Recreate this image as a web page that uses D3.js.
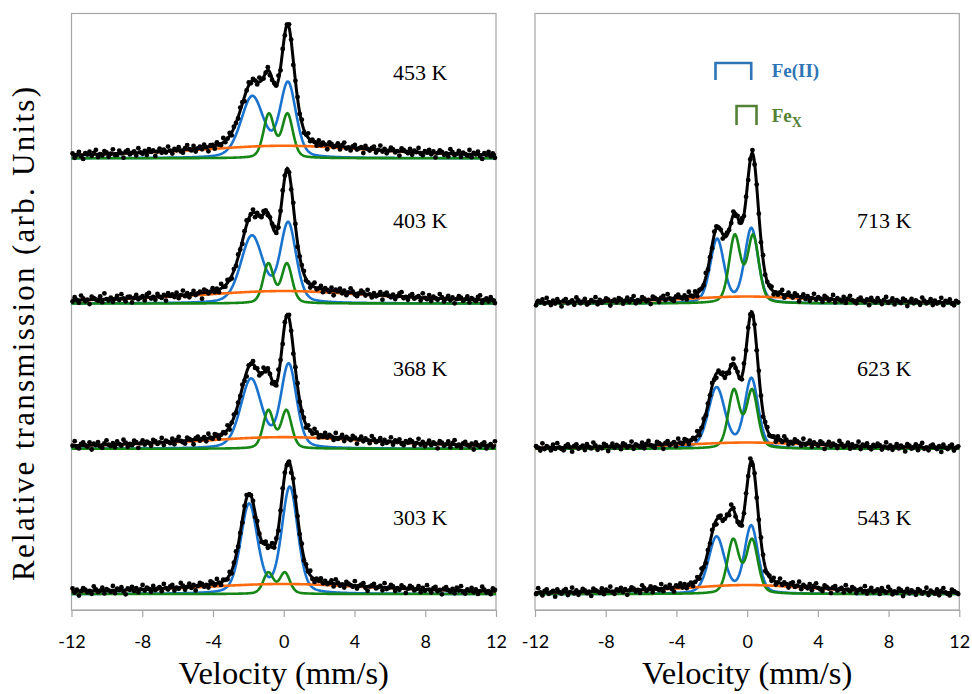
<!DOCTYPE html>
<html><head><meta charset="utf-8">
<script src="https://cdn.jsdelivr.net/npm/d3@7"></script>
<style>body{margin:0;background:#fff}</style>
</head><body><svg id="c" width="972" height="694"></svg>
<script>
// ---- data ----
const spectrumLabels = ["453 K","403 K","368 K","303 K","713 K","623 K","543 K"];
const spectrumPanel  = [0,0,0,0,1,1,1];
const spectrumStack  = [3,2,1,0,2,1,0];
// Fe(II) doublet (blue)
const feIICentreA = [-1.78,-1.80,-1.85,-1.96,-1.70,-1.73,-1.73];
const feIICentreB = [0.24,0.25,0.28,0.34,0.24,0.24,0.23];
const feIIHeightA = [42.0,46.0,47.5,61.3,43.9,41.8,39.0];
const feIIHeightB = [51.0,54.5,57.5,73.0,51.4,48.0,46.6];
const feIIWidthA  = [0.76,0.74,0.70,0.56,0.46,0.56,0.54];
const feIIWidthB  = [0.53,0.53,0.52,0.53,0.45,0.45,0.45];
// Fe_X doublet (green)
const feXCentreA = [-0.84,-0.87,-0.87,-0.87,-0.70,-0.75,-0.79];
const feXCentreB = [0.21,0.18,0.15,0.06,0.34,0.28,0.28];
const feXHeight  = [30.0,27.0,26.0,14.5,45.8,39.5,36.7];
const feXWidth   = [0.36,0.35,0.35,0.34,0.38,0.38,0.39];
// broad background component (orange)
const bgHeight = [8.6,8.6,8.0,6.9,4.8,4.3,6.2];
const bgWidth  = [7,7,7,7,5,5,5];
// part of the total fit (black) not drawn as a separate curve
const hiddenCentre = [-1.30,-1.40,-1.30,-1.30,-1.15,-1.25,-1.20];
const hiddenHeight = [1.0,7.0,2.0,0.0,5.0,6.5,7.5];
const hiddenWidth  = [0.70,0.80,0.70,0.70,0.40,0.50,0.50];
// measured scatter of points about the fit, one list per spectrum
const scatter = [
[1,-2,0,2,-1,-3,1,0,2,-1,1,3,-2,0,-1,2,1,-2,0,3,-1,-1,2,0,-3,1,2,-1,0,1,-2,3,0,-1,1,-2,2,0,1,-3,
0,2,-1,1,-1,3,0,-2,1,0,2,-1,-2,1,3,0,-1,2,-2,0,1,-1,2,0,-3,1,1,-2,2,0,-1,3,-1,0,2,-2,1,0,-1,2,
1,-3,0,2,-1,1,0,-2,3,1,-1,0,2,-2,-1,1,0,3,-2,1,-1,0,2,1,-3,0,1,-1,2,-2,0,3,-1,1,0,-2,2,-1,1,0,
-3,2,1,-1,0,2,-2,1,3,-1,0,-2,1,2,-1,0,1,-3,2,0,-1,1,2,-2,0,3,-1,1,-2,0,2,1,-1,0,-3,2,1,0,-1,2,
-2,1,0,3,-1,-2,1,0,2,-1,1,-3,0,2,1,-1,0,-2,3,1,-1,0,2,-2,1,0,-1,3,-2,1,0,2,-1,-3,1,0,2,-1,1,-2],
[-1,2,0,-2,3,1,-1,0,-3,2,1,0,-1,2,-2,4,0,-1,1,-2,0,2,-1,3,0,-2,1,1,-3,0,2,-1,0,1,-2,2,3,-1,0,-2,
2,0,-1,1,-3,2,0,1,-1,2,-2,0,3,-1,1,-2,0,2,-1,0,1,-4,2,1,-1,0,2,-1,1,-2,3,0,-1,2,0,-2,1,-1,2,0,
-2,1,3,-1,0,2,-3,1,0,-1,2,1,-2,0,1,3,-1,-2,0,2,1,-1,0,-2,2,1,-3,0,1,2,-1,0,-2,1,3,-1,0,2,-2,1,
0,-1,2,-3,1,0,2,-1,1,-2,0,3,1,-1,-2,0,2,1,-1,3,0,-2,1,-1,0,2,-3,1,2,0,-1,1,-2,0,2,3,-1,0,-2,1,
2,-1,0,1,-2,3,0,-1,2,-2,1,0,-1,3,1,-2,0,2,-1,1,-3,0,2,1,-1,0,2,-2,1,0,-1,2,3,-2,0,1,-1,2,0,-2],
[0,3,-1,-2,1,2,0,-1,2,-3,1,0,2,-1,-2,1,3,0,-1,1,-2,2,0,-1,3,1,-2,0,-1,2,1,-3,0,2,-1,1,0,-2,2,1,
-1,0,3,-2,1,0,-1,2,-2,1,3,0,-1,-2,2,1,0,-3,1,2,-1,0,1,-2,3,0,-1,2,1,-2,0,1,-1,3,-2,0,2,-1,1,0,
2,-1,-3,1,0,2,-1,1,-2,0,3,-1,1,0,-2,2,-1,4,0,-2,1,-1,2,0,-3,1,2,-1,0,1,-2,2,0,-1,3,1,-2,0,-1,2,
-1,1,0,-2,3,-1,0,2,-2,1,0,-1,2,1,-3,0,2,-1,1,0,-2,3,1,-1,0,2,-2,1,-1,0,3,-2,1,0,2,-1,-2,1,0,2,
1,-2,0,3,-1,1,-2,0,2,-1,1,0,-3,2,1,-1,0,2,-2,1,3,-1,0,-2,1,2,0,-1,1,-3,2,0,-1,1,2,-2,0,1,-1,3],
[2,-1,1,-3,0,2,1,-1,0,-2,3,1,-1,0,2,-2,1,0,-1,3,-2,1,0,2,-1,-3,1,0,2,-1,1,-2,0,3,-1,1,0,-2,2,-1,
0,1,-2,3,0,-1,1,2,-2,0,-1,3,1,-2,0,2,-1,1,-3,0,2,1,-1,0,-2,2,1,-1,3,0,-2,1,0,-1,2,-2,1,3,-1,0,
-2,1,2,-1,0,1,-3,2,0,-1,1,2,-2,0,3,-1,1,-2,0,2,1,-1,0,-3,2,1,0,-1,2,-2,1,0,3,-1,-2,1,0,2,-1,1,
-1,0,2,-2,3,1,-1,0,-2,2,1,0,-1,3,-2,0,1,2,-1,-3,0,1,2,-1,0,1,-2,3,-1,0,2,1,-2,0,-1,2,1,-3,0,2,
1,-1,0,2,-2,1,-1,3,0,-2,1,2,-1,0,-3,1,2,0,-1,1,-2,2,0,3,-1,-2,1,0,2,-1,1,-2,0,3,1,-1,0,-2,2,1],
[-2,1,0,2,-1,3,0,-2,1,-1,2,0,-3,1,2,-1,0,1,-2,3,1,-1,0,2,-2,-1,1,0,3,-2,1,-1,0,2,1,-3,0,1,-1,2,
1,-2,0,2,-1,1,3,-2,0,-1,2,1,-1,0,-3,2,1,0,-2,1,2,-1,3,0,-1,-2,1,2,0,-1,1,-2,3,0,-1,2,-2,1,0,-1,
3,-1,0,-2,2,1,-1,0,-3,1,2,0,-1,2,-2,1,0,3,-1,1,-2,0,2,-1,1,0,-2,3,-1,0,1,2,-2,0,-1,1,3,-2,0,2,
0,-1,2,1,-3,0,2,-1,1,-2,0,3,-1,1,0,-2,2,1,-1,0,3,-2,1,0,-1,2,-2,1,3,0,-1,-2,1,2,0,-1,1,-3,2,0,
-1,2,0,-2,1,3,-1,0,2,-2,1,0,-1,2,1,-3,0,2,-1,1,0,-2,3,1,-1,0,2,-2,1,-1,0,3,-2,1,0,2,-1,-2,1,0],
[1,0,-2,3,-1,1,0,-2,2,-1,3,0,-1,-2,1,2,0,-3,1,2,-1,0,1,-2,2,0,-1,3,1,-2,0,-1,2,1,-3,0,2,-1,1,0,
-2,2,1,-1,0,3,-2,1,0,-1,2,-2,1,3,0,-1,-2,2,1,0,-3,1,2,-1,0,1,-2,3,0,-1,2,1,-2,0,1,-1,3,-2,0,2,
-1,1,0,2,-1,-3,1,0,2,-1,1,-2,0,3,-1,1,0,-2,2,-1,1,0,-2,1,-1,2,0,-3,1,2,-1,0,1,-2,2,0,-1,3,1,-2,
0,-1,2,1,0,-2,3,-1,0,2,-2,1,0,-1,2,1,-3,0,2,-1,1,0,-2,3,1,-1,0,2,-2,1,-1,0,3,-2,1,0,2,-1,-2,1,
0,2,1,-2,0,3,-1,1,-2,0,2,-1,1,0,-3,2,1,-1,0,2,-2,1,3,-1,0,-2,1,2,0,-1,1,-3,2,0,-1,1,2,-2,0,1],
[-1,3,0,-2,1,2,-1,0,1,-3,2,0,-1,1,2,-2,0,3,-1,1,-2,0,2,1,-1,0,-3,2,1,0,-1,2,-2,1,0,3,-1,-2,1,0,
2,-1,1,-3,0,2,1,-1,0,-2,3,1,-1,0,2,-2,1,0,-1,3,-2,1,0,2,-1,-3,1,0,2,-1,1,-2,0,1,-2,0,2,-1,3,0,
-2,1,-1,2,0,-3,1,2,-1,0,1,-2,3,1,-1,0,2,-2,-1,1,0,3,-2,1,-1,0,2,1,-3,0,1,-1,2,-2,0,3,-1,1,0,-2,
1,2,-1,0,3,-2,1,0,-1,2,-2,1,3,0,-1,-2,2,1,0,-3,1,2,-1,0,1,-2,3,0,-1,2,1,-2,0,1,-1,3,-2,0,2,-1,
0,1,-2,2,0,-1,3,1,-2,0,-1,2,1,-3,0,2,-1,1,0,-2,2,1,-1,0,3,-2,1,0,-1,2,-2,1,3,0,-1,-2,2,1,0,-1]
];
const velocityTicks = [-12,-8,-4,0,4,8,12];
const legendLabels = ["Fe(II)","Fe"];
const legendSub = ["","X"];
const legendFrom = [-1.79,-0.60];
const legendTo   = [0.23,0.53];

// ---- drawing ----
const svg = d3.select("#c");
const C = {blue:"#1a73cd", green:"#168716", orange:"#ff6a0e", frame:"#a6a6a6",
           legBlue:"#2e75b6", legGreen:"#538135"};
const serif = "'Liberation Serif','Times New Roman',Times,serif";
const xScales = [
  d3.scaleLinear().domain([-12,12]).range([71.5,496]),
  d3.scaleLinear().domain([-12,12]).range([535,959.3])
];
const y = d3.scaleLinear().domain([0,411]).range([610,13]);
const baseOffset = 11, stackStep = 100, eta = 0.3;

function pv(v,c,h,w){ const t=(v-c)/w, t2=t*t; return h*(eta/(1+t2)+(1-eta)*Math.exp(-Math.LN2*t2)); }
const feII = (i,v)=>pv(v,feIICentreA[i],feIIHeightA[i],feIIWidthA[i])+pv(v,feIICentreB[i],feIIHeightB[i],feIIWidthB[i]);
const feX  = (i,v)=>pv(v,feXCentreA[i],feXHeight[i],feXWidth[i])+pv(v,feXCentreB[i],feXHeight[i],feXWidth[i]);
const bg   = (i,v)=>bgHeight[i]/(1+(v/bgWidth[i])**2);
const hidden=(i,v)=>pv(v,hiddenCentre[i],hiddenHeight[i],hiddenWidth[i]);
const total= (i,v)=>feII(i,v)+feX(i,v)+bg(i,v)+hidden(i,v);

const grid = d3.range(-12,12.0001,0.04);

// frames and axes
xScales.forEach((x,p)=>{
  svg.append("rect").attr("x",x.range()[0]).attr("y",13.5)
    .attr("width",x.range()[1]-x.range()[0]).attr("height",610-13.5)
    .attr("fill","none").attr("stroke",C.frame).attr("stroke-width",1.2);
  const ax = svg.append("g").attr("transform","translate(0,610)")
    .call(d3.axisBottom(x).tickValues(velocityTicks).tickSize(7).tickSizeOuter(0).tickFormat(d=>String(d)));
  ax.select(".domain").attr("stroke",C.frame).attr("stroke-width",1.2);
  ax.selectAll(".tick line").attr("stroke",C.frame).attr("stroke-width",1.2);
  ax.selectAll(".tick text").attr("y",25).attr("dy","0.71em")
    .attr("font-family","Lato, 'Open Sans', sans-serif").attr("font-size",18).attr("fill","#000");
  svg.append("text").attr("x",(x.range()[0]+x.range()[1])/2).attr("y",684)
    .attr("text-anchor","middle").attr("font-family",serif)
    .attr("font-size",32.5).text("Velocity (mm/s)");
});

svg.append("text").attr("transform","translate(33.5,334) rotate(-90)")
  .attr("text-anchor","middle").attr("font-family",serif)
  .attr("font-size",31).attr("textLength",494).attr("lengthAdjust","spacing")
  .text("Relative transmission (arb. Units)");

// spectra
spectrumLabels.forEach((lab,i)=>{
  const x = xScales[spectrumPanel[i]];
  const b = baseOffset + stackStep*spectrumStack[i];
  const g = svg.append("g");
  const mk = f => d3.line().x(v=>x(v)).y(v=>y(b+f(i,v)))(grid);
  g.append("path").attr("d",mk(feII)).attr("fill","none").attr("stroke",C.blue).attr("stroke-width",2.6);
  g.append("path").attr("d",mk(feX)).attr("fill","none").attr("stroke",C.green).attr("stroke-width",2.6);
  g.append("path").attr("d",mk(bg)).attr("fill","none").attr("stroke",C.orange).attr("stroke-width",2.6);
  const res = scatter[i], n = res.length;
  const pts = res.map((r,k)=>{ const v = -11.94 + k*23.88/(n-1); return [v, total(i,v)+r]; });
  g.selectAll("circle").data(pts).join("circle")
    .attr("cx",d=>x(d[0])).attr("cy",d=>y(b+d[1])).attr("r",2.4).attr("fill","#000");
  g.append("path").attr("d",mk(total)).attr("fill","none").attr("stroke","#000").attr("stroke-width",3);
  g.append("text").attr("x",spectrumPanel[i]===0?393:857).attr("y",y(b)-69.5-3*spectrumStack[i])
    .attr("font-family",serif).attr("font-size",22).text(lab);
});

// legend
const xr = xScales[1];
const legY = [[80,63],[125,106]];
const legCol = [C.legBlue, C.legGreen];
legendLabels.forEach((lab,k)=>{
  svg.append("path")
    .attr("d",`M${xr(legendFrom[k])},${legY[k][0]}V${legY[k][1]}H${xr(legendTo[k])}V${legY[k][0]}`)
    .attr("fill","none").attr("stroke",legCol[k]).attr("stroke-width",2.6);
  const t = svg.append("text").attr("x",771.7).attr("y",legY[k][0]-(k===0?3:3.3))
    .attr("font-family",serif).attr("font-weight","bold")
    .attr("font-size",19).attr("fill",legCol[k]).text(lab);
  if(legendSub[k]) t.append("tspan").attr("dy",5).attr("font-size",14).text(legendSub[k]);
});
</script></body></html>
